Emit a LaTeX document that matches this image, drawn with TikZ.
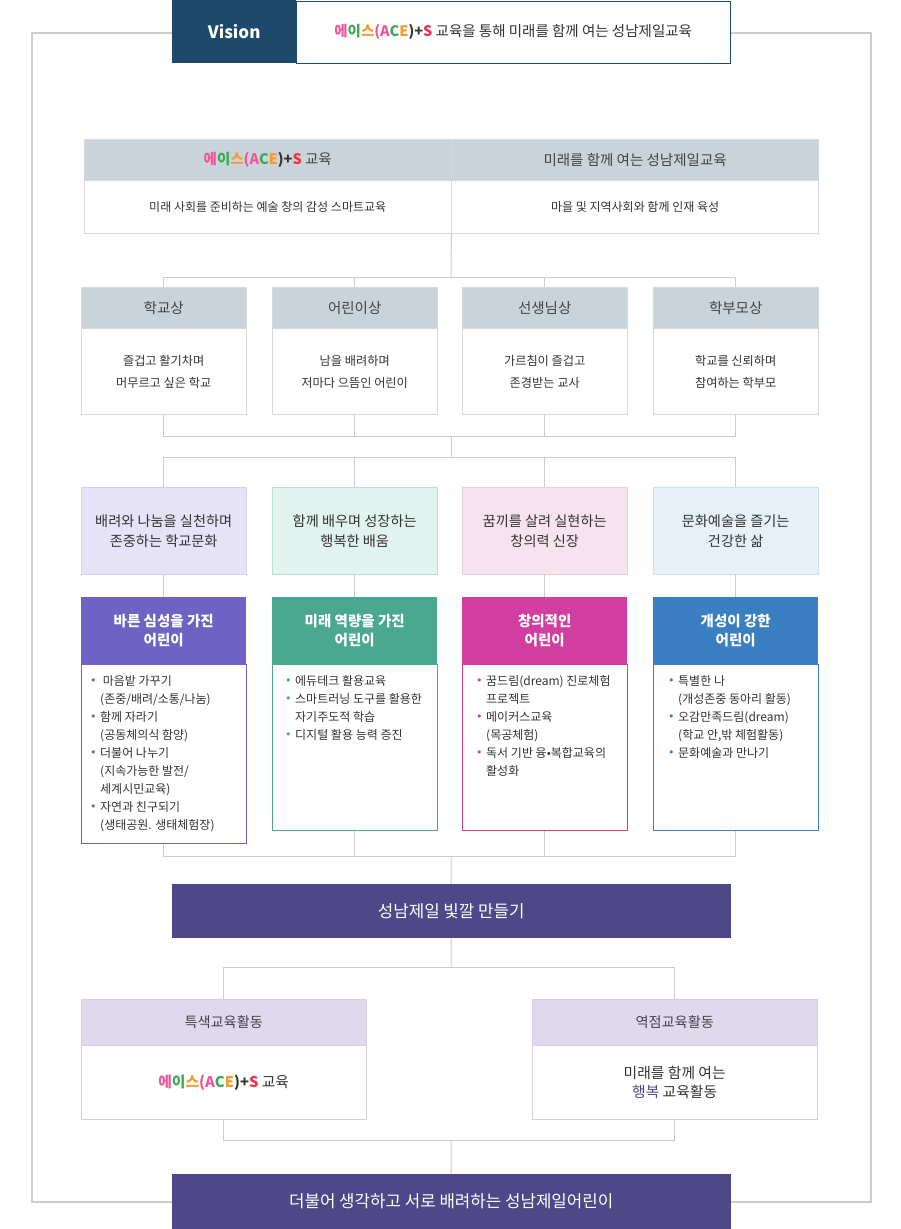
\documentclass[tikz,border=0pt]{standalone}
\usepackage{fontspec}
\setmainfont{Noto Sans CJK KR}
\newfontfamily\dejavu{DejaVu Sans}
\usetikzlibrary{positioning}

\definecolor{navy}{HTML}{1D4A6A}
\definecolor{hdrgray}{HTML}{C9D3DA}
\definecolor{cellline}{HTML}{D2DAE0}
\definecolor{linkgray}{HTML}{CCCCCC}
\definecolor{txt}{HTML}{333333}
\definecolor{hdrtxt}{HTML}{444444}
\definecolor{barpurple}{HTML}{4F4888}
\definecolor{lavhdr}{HTML}{E0D9EE}
\definecolor{lavline}{HTML}{D5CFE5}
\definecolor{cpur}{HTML}{6E63C4}
\definecolor{cteal}{HTML}{4AA88F}
\definecolor{cmag}{HTML}{D23EA0}
\definecolor{cblue}{HTML}{3A7FC1}
\definecolor{lpur}{HTML}{E6E2F7}
\definecolor{lpurline}{HTML}{D4CEEB}
\definecolor{lteal}{HTML}{E0F3EE}
\definecolor{ltealline}{HTML}{B8E0D3}
\definecolor{lmag}{HTML}{F7E2F0}
\definecolor{lmagline}{HTML}{EBCBE0}
\definecolor{lblue}{HTML}{E6F0F9}
\definecolor{lblueline}{HTML}{D0E0EE}
\definecolor{acepink}{HTML}{F0569A}
\definecolor{acegreen}{HTML}{3AAA55}
\definecolor{aceorange}{HTML}{F39A2D}
\definecolor{acered}{HTML}{E8344E}

\newcommand\acetxt{\textbf{\textcolor{acepink}{에}\textcolor{acegreen}{이}\textcolor{aceorange}{스}\textcolor{acepink}{(A}\textcolor{acegreen}{C}\textcolor{aceorange}{E}\textcolor{txt}{)+}\textcolor{acered}{S}}}
\newcommand\bul[1]{\makebox[10pt][l]{\raisebox{0.5pt}{\dejavu\fontsize{11}{11}\selectfont\textcolor{#1}{•}}}}
\newcommand\indt{\hspace*{10pt}}

\tikzset{
  outline/.style={draw=linkgray, line width=1.3pt},
  link/.style={draw=linkgray, line width=1pt},
  hdr/.style={draw=cellline, fill=hdrgray, text=hdrtxt, font=\fontsize{14.5}{18}\selectfont, minimum height=41pt, inner sep=0pt, anchor=north west},
  cell/.style={draw=cellline, fill=white, text=txt, align=center, inner sep=0pt},
  soft/.style={minimum width=165pt, minimum height=87pt, anchor=north west, align=center, inner sep=0pt, text=txt, font=\fontsize{14.2}{20}\selectfont},
  kidhd/.style={minimum width=165pt, minimum height=67pt, anchor=north west, align=center, inner sep=0pt, text=white, font=\bfseries\fontsize{14.5}{19}\selectfont},
  kidbd/.style={fill=white, minimum width=165pt, line width=1pt},
  list/.style={anchor=north west, align=left, inner sep=0pt, text=txt, font=\fontsize{12}{18}\selectfont},
  barbox/.style={fill=barpurple, text=white, minimum width=559pt, anchor=north west, inner sep=0pt, font=\fontsize{16.8}{20}\selectfont},
  lavhd/.style={draw=lavline, fill=lavhdr, text=hdrtxt, minimum width=285pt, minimum height=46pt, anchor=north west, inner sep=0pt, font=\fontsize{14.2}{18}\selectfont},
  lavbd/.style={draw=lavline, fill=white, text=txt, minimum width=285pt, minimum height=74pt, align=center, inner sep=0pt, font=\fontsize{14.8}{19}\selectfont},
}

\begin{document}
\begin{tikzpicture}[x=1pt, y=-1pt]
	\useasboundingbox (0,0) rectangle (901,1229);
	\draw[outline] (32,33) rectangle (871,1202);

	% vision
	\node[fill=navy, text=white, font=\bfseries\fontsize{17}{20}\selectfont, minimum width=124pt, minimum height=63pt, inner sep=0pt, anchor=north west] (vis) at (172,0) {Vision};
	\node[draw=navy, fill=white, text=txt, font=\fontsize{14.5}{18}\selectfont, minimum width=434pt, minimum height=62.5pt, inner sep=0pt, anchor=north west] (vistxt) at (296,0.5) {\acetxt{} 교육을 통해 미래를 함께 여는 성남제일교육};

	% goals table
	\node[hdr, minimum width=367pt] (acehd) at (84,139) {\acetxt{} 교육};
	\node[hdr, minimum width=367pt, right=0pt of acehd] (futhd) {미래를 함께 여는 성남제일교육};
	\node[cell, minimum width=367pt, minimum height=53pt, font=\fontsize{12}{16}\selectfont, below=0pt of acehd] (acebd) {미래 사회를 준비하는 예술 창의 감성 스마트교육};
	\node[cell, minimum width=367pt, minimum height=53pt, font=\fontsize{12}{16}\selectfont, below=0pt of futhd] (futbd) {마을 및 지역사회와 함께 인재 육성};

	% four images
	\node[hdr, minimum width=165pt] (schh) at (81,287) {학교상};
	\node[hdr, minimum width=165pt] (kidh) at (272,287) {어린이상};
	\node[hdr, minimum width=165pt] (teah) at (462,287) {선생님상};
	\node[hdr, minimum width=165pt] (parh) at (653,287) {학부모상};
	\node[cell, minimum width=165pt, minimum height=86pt, font=\fontsize{12.2}{22}\selectfont, below=0pt of schh] (sch) {즐겁고 활기차며\\머무르고 싶은 학교};
	\node[cell, minimum width=165pt, minimum height=86pt, font=\fontsize{12.2}{22}\selectfont, below=0pt of kidh] (kid) {남을 배려하며\\저마다 으뜸인 어린이};
	\node[cell, minimum width=165pt, minimum height=86pt, font=\fontsize{12.2}{22}\selectfont, below=0pt of teah] (tea) {가르침이 즐겁고\\존경받는 교사};
	\node[cell, minimum width=165pt, minimum height=86pt, font=\fontsize{12.2}{22}\selectfont, below=0pt of parh] (par) {학교를 신뢰하며\\참여하는 학부모};

	% four aims
	\node[soft, fill=lpur, draw=lpurline] (cul) at (81,487) {배려와 나눔을 실천하며\\존중하는 학교문화};
	\node[soft, fill=lteal, draw=ltealline] (learn) at (272,487) {함께 배우며 성장하는\\행복한 배움};
	\node[soft, fill=lmag, draw=lmagline] (dream) at (462,487) {꿈끼를 살려 실현하는\\창의력 신장};
	\node[soft, fill=lblue, draw=lblueline] (art) at (653,487) {문화예술을 즐기는\\건강한 삶};

	% four children
	\node[kidhd, fill=cpur] (goodh) at (81,597) {바른 심성을 가진\\어린이};
	\node[kidhd, fill=cteal] (smarth) at (272,597) {미래 역량을 가진\\어린이};
	\node[kidhd, fill=cmag] (makeh) at (462,597) {창의적인\\어린이};
	\node[kidhd, fill=cblue] (selfh) at (653,597) {개성이 강한\\어린이};
	\node[kidbd, draw=cpur, minimum height=179pt, below=0pt of goodh] (good) {};
	\node[kidbd, draw=cteal, minimum height=166pt, below=0pt of smarth] (smart) {};
	\node[kidbd, draw=cmag, minimum height=166pt, below=0pt of makeh] (make) {};
	\node[kidbd, draw=cblue, minimum height=166pt, below=0pt of selfh] (self) {};

	\node[list] (goodl) at (90,675) {\bul{cpur} 마음밭 가꾸기\\ \indt{}(존중/배려/소통/나눔)\\ \bul{cpur}함께 자라기\\ \indt{}(공동체의식 함양)\\ \bul{cpur}더불어 나누기\\ \indt{}(지속가능한 발전/\\ \indt{}세계시민교육)\\ \bul{cpur}자연과 친구되기\\ \indt{}(생태공원. 생태체험장)};
	\node[list] (smartl) at (285,675) {\bul{cteal}에듀테크 활용교육\\ \bul{cteal}스마트러닝 도구를 활용한\\ \indt{}자기주도적 학습\\ \bul{cteal}디지털 활용 능력 증진};
	\node[list] (makel) at (476,675) {\bul{cmag}꿈드림(dream) 진로체험\\ \indt{}프로젝트\\ \bul{cmag}메이커스교육\\ \indt{}(목공체험)\\ \bul{cmag}독서 기반 융•복합교육의\\ \indt{}활성화};
	\node[list] (selfl) at (668,675) {\bul{cblue}특별한 나\\ \indt{}(개성존중 동아리 활동)\\ \bul{cblue}오감만족드림(dream)\\ \indt{}(학교 안,밖 체험활동)\\ \bul{cblue}문화예술과 만나기};

	% bars and activities
	\node[barbox, minimum height=54pt] (colors) at (171.5,884) {성남제일 빛깔 만들기};
	\node[lavhd] (spech) at (81,999) {특색교육활동};
	\node[lavhd] (focush) at (532,999) {역점교육활동};
	\node[lavbd, below=0pt of spech] (spec) {\acetxt{} 교육};
	\node[lavbd, below=0pt of focush] (focus) {미래를 함께 여는\\\textcolor{barpurple}{행복} 교육활동};
	\node[barbox, minimum height=55pt] (goal) at (171.5,1174) {더불어 생각하고 서로 배려하는 성남제일어린이};

	% junctions
	\coordinate (j1) at (451,277);
	\coordinate (j2) at (451,436);
	\coordinate (j3) at (451,457);
	\coordinate (j4) at (451,856);
	\coordinate (j5) at (451,967);
	\coordinate (j6) at (451,1140);

	\draw[link] (acebd.south east) -- (j1);
	\draw[link] (j1) -| (schh.north);
	\draw[link] (j1) -| (kidh.north);
	\draw[link] (j1) -| (teah.north);
	\draw[link] (j1) -| (parh.north);
	\draw[link] (sch.south) |- (j2);
	\draw[link] (kid.south) |- (j2);
	\draw[link] (tea.south) |- (j2);
	\draw[link] (par.south) |- (j2);
	\draw[link] (j2) -- (j3);
	\draw[link] (j3) -| (cul.north);
	\draw[link] (j3) -| (learn.north);
	\draw[link] (j3) -| (dream.north);
	\draw[link] (j3) -| (art.north);
	\draw[link] (cul) -- (goodh);
	\draw[link] (learn) -- (smarth);
	\draw[link] (dream) -- (makeh);
	\draw[link] (art) -- (selfh);
	\draw[link] (good.south) |- (j4);
	\draw[link] (smart.south) |- (j4);
	\draw[link] (make.south) |- (j4);
	\draw[link] (self.south) |- (j4);
	\draw[link] (j4) -- (colors);
	\draw[link] (colors) -- (j5);
	\draw[link] (j5) -| (spech.north);
	\draw[link] (j5) -| (focush.north);
	\draw[link] (spec.south) |- (j6);
	\draw[link] (focus.south) |- (j6);
	\draw[link] (j6) -- (goal);

\end{tikzpicture}
\end{document}
